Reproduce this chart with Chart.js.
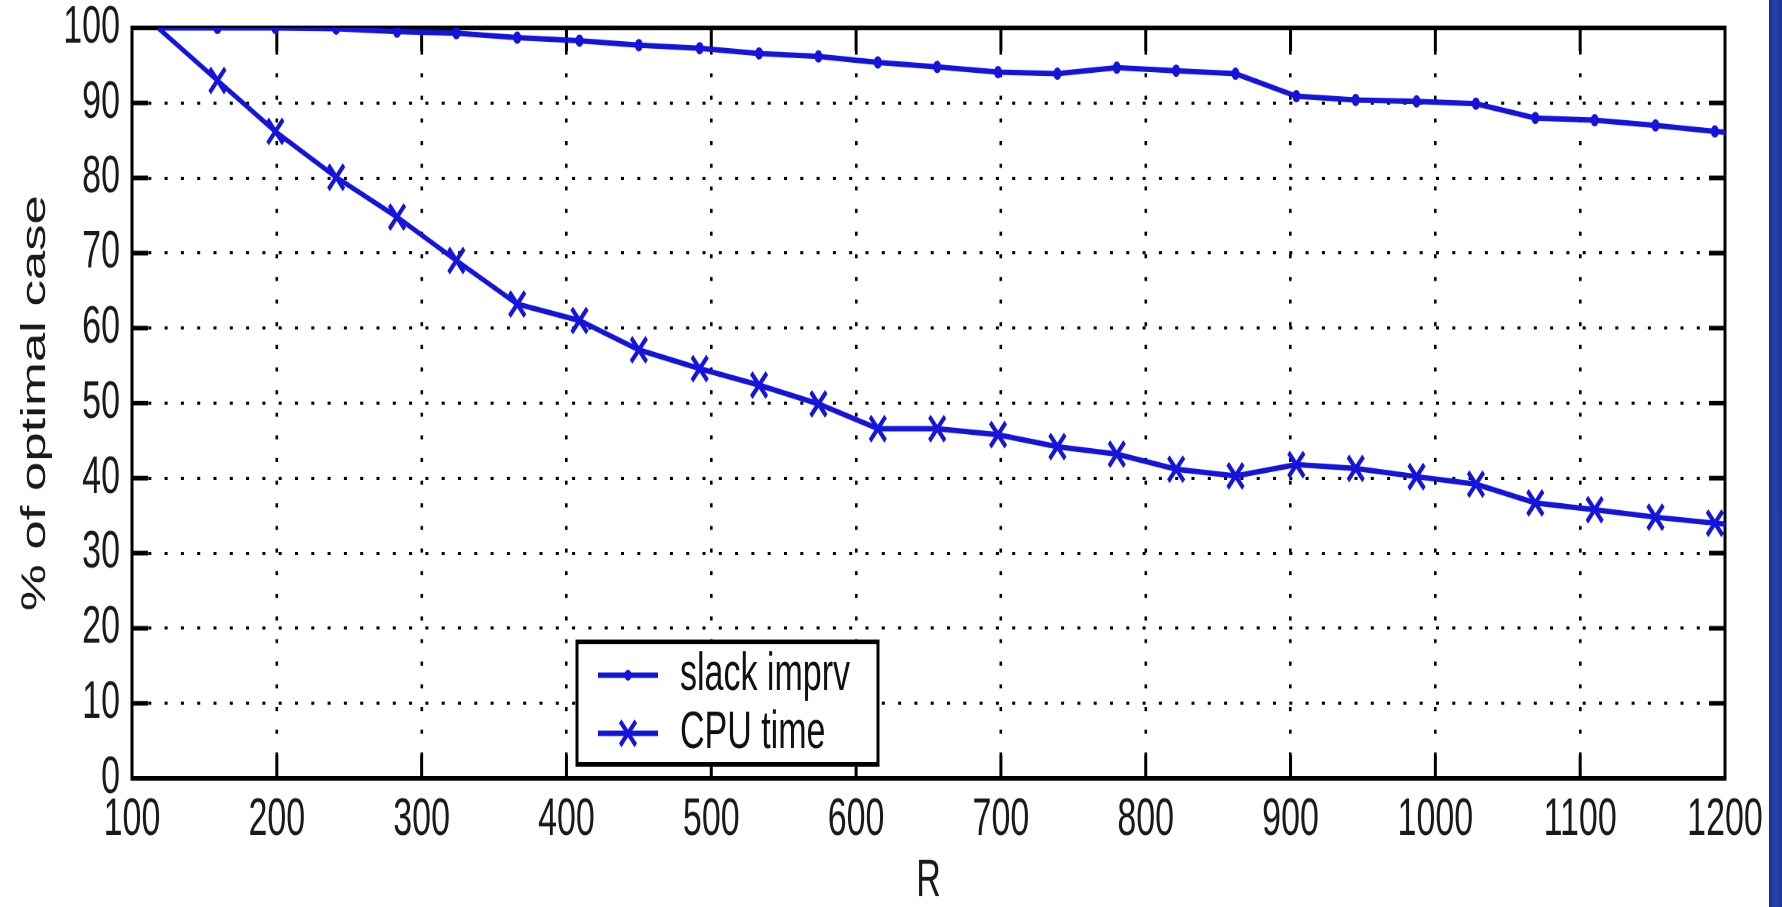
<!DOCTYPE html>
<html lang="en">
<head>
<meta charset="UTF-8" />
<title>% of optimal case vs R</title>
<script src="https://cdn.jsdelivr.net/npm/chart.js@4/dist/chart.umd.min.js"></script>
<style>
  html, body { margin: 0; padding: 0; background: #fff; overflow: hidden; }
  /* the original picture is stretched vertically, so the chart is too */
  #wrap { position: absolute; left: 0; top: 0; width: 1782px; height: 585px; transform: scaleY(1.5504); transform-origin: 0 0; }
  #graf { display: block; width: 1782px; height: 585px; }
  #barra { position: absolute; top: 0; left: 1769px; width: 13px; height: 907px; background: linear-gradient(to right, #1a2f8e, #2646ab 50%, #1c3394); }
</style>
</head>
<body>
<div id="wrap"><canvas id="graf" width="1782" height="585"></canvas></div>
<div id="barra"></div>

<script>
// values (last point sits just past the right edge)
const R = [118, 159, 199, 241, 283, 324, 366, 409, 450, 492, 533, 574, 615, 656,
           698, 739, 780, 821, 862, 904, 945, 987, 1028, 1069, 1110, 1152, 1193, 1234];
const slackImprv = [100, 100, 100, 99.9, 99.5, 99.3, 98.7, 98.3, 97.7, 97.3, 96.6, 96.2, 95.4, 94.8,
                    94.1, 93.9, 94.7, 94.3, 93.9, 90.9, 90.4, 90.2, 89.9, 88.0, 87.7, 87.0, 86.2, 85.6];
const cpuTime = [100, 93.0, 86.2, 80.1, 74.8, 69.0, 63.2, 61.0, 57.1, 54.6, 52.4, 49.9, 46.6, 46.6,
                 45.8, 44.2, 43.2, 41.2, 40.3, 41.8, 41.3, 40.2, 39.2, 36.7, 35.8, 34.8, 34.0, 33.3];
const xRange = [100, 1200];
const yRange = [0, 100];
const xStep = 100;
const yStep = 10;

const azul = '#1414dc';
const fuente = '"Liberation Sans", Arial, Helvetica, sans-serif';

// box round the plot with inward ticks (drawn under the lines)
const marco = {
  id: 'marco',
  beforeDatasetsDraw(chart) {
    const { ctx, chartArea: a, scales: { x, y } } = chart;
    ctx.save();
    ctx.strokeStyle = '#000';
    ctx.lineWidth = 3;
    ctx.strokeRect(a.left, a.top, a.right - a.left, a.bottom - a.top);
    ctx.beginPath();
    x.ticks.forEach(t => {
      const px = x.getPixelForValue(t.value);
      ctx.moveTo(px, a.bottom); ctx.lineTo(px, a.bottom - 15);
      ctx.moveTo(px, a.top); ctx.lineTo(px, a.top + 15);
    });
    y.ticks.forEach(t => {
      const py = y.getPixelForValue(t.value);
      ctx.moveTo(a.left, py); ctx.lineTo(a.left + 16, py);
      ctx.moveTo(a.right, py); ctx.lineTo(a.right - 16, py);
    });
    ctx.stroke();
    ctx.restore();
  }
};

function marcador(ctx, ds, cx, cy) {
  if (ds.pointStyle === 'crossRot') {
    const d = 11 * Math.SQRT1_2;
    ctx.lineWidth = ds.pointBorderWidth;
    ctx.beginPath();
    ctx.moveTo(cx - d, cy - d); ctx.lineTo(cx + d, cy + d);
    ctx.moveTo(cx + d, cy - d); ctx.lineTo(cx - d, cy + d);
    ctx.stroke();
  } else {
    ctx.beginPath();
    ctx.arc(cx, cy, 3.5, 0, Math.PI * 2);
    ctx.fill();
  }
}

// legend box inside the plot, lower left
const leyenda = {
  id: 'leyenda',
  afterDraw(chart) {
    const { ctx, chartArea: a } = chart;
    const x0 = a.left + 445, y0 = a.bottom - 88, w = 301, h = 79;
    ctx.save();
    ctx.fillStyle = '#fff';
    ctx.fillRect(x0, y0, w, h);
    ctx.strokeStyle = '#000';
    ctx.lineWidth = 3;
    ctx.strokeRect(x0, y0, w, h);
    chart.data.datasets.forEach((ds, i) => {
      const cy = y0 + 21.5 + i * 37.5;
      ctx.strokeStyle = ds.borderColor;
      ctx.fillStyle = ds.borderColor;
      ctx.lineWidth = ds.borderWidth;
      ctx.beginPath();
      ctx.moveTo(x0 + 21, cy); ctx.lineTo(x0 + 81, cy);
      ctx.stroke();
      marcador(ctx, ds, x0 + 51, cy);
      ctx.fillStyle = '#111';
      ctx.font = '34px ' + fuente;
      ctx.textBaseline = 'middle';
      ctx.fillText(ds.label, x0 + 103, cy);
    });
    ctx.restore();
  }
};

const sinPrimero = r => c => (c.dataIndex === 0 ? 0 : r);

new Chart(document.getElementById('graf'), {
  type: 'line',
  data: {
    datasets: [{
      label: 'slack imprv',
      data: R.map((r, i) => ({ x: r, y: slackImprv[i] })),
      borderColor: azul,
      backgroundColor: azul,
      borderWidth: 3.5,
      pointStyle: 'circle',
      pointRadius: sinPrimero(3.5),
      pointBorderWidth: 1,
      pointBackgroundColor: azul,
      pointBorderColor: azul,
      tension: 0
    }, {
      label: 'CPU time',
      data: R.map((r, i) => ({ x: r, y: cpuTime[i] })),
      borderColor: azul,
      backgroundColor: azul,
      borderWidth: 3.5,
      pointStyle: 'crossRot',
      pointRadius: sinPrimero(11),
      pointBorderWidth: 3.5,
      pointBorderColor: azul,
      tension: 0
    }]
  },
  options: {
    responsive: false,
    devicePixelRatio: 2,
    animation: false,
    events: [],
    layout: { padding: { top: 18, right: 57, left: 0, bottom: 0 } },
    plugins: { legend: { display: false }, tooltip: { enabled: false } },
    scales: {
      x: {
        type: 'linear',
        min: xRange[0], max: xRange[1],
        afterFit(s) { s.height = 83; },
        ticks: { stepSize: xStep, padding: 10, maxRotation: 0, color: '#1a1a1a', callback: v => String(v), font: { family: fuente, size: 34, lineHeight: 1 } },
        grid: { color: '#000', lineWidth: 2.6, drawTicks: false },
        border: { display: false, dash: [2.6, 12] },
        title: { display: true, text: 'R', color: '#1a1a1a', padding: { top: 0, bottom: -4 }, font: { family: fuente, size: 34, lineHeight: 1.2 } }
      },
      y: {
        min: yRange[0], max: yRange[1],
        afterFit(s) { s.width = 132; },
        ticks: { stepSize: yStep, padding: 0, color: '#1a1a1a', callback: v => String(v), font: { family: fuente, size: 34, lineHeight: 1 } },
        grid: { color: '#000', lineWidth: 2, drawTicks: true, tickLength: 12, tickColor: 'rgba(0,0,0,0)' },
        border: { display: false, dash: [3, 13.3] },
        title: { display: true, text: '% of optimal case', color: '#1a1a1a', padding: { top: 15, bottom: 0 }, font: { family: fuente, size: 34, lineHeight: 1.2 } }
      }
    }
  },
  plugins: [marco, leyenda]
});
</script>
</body>
</html>
